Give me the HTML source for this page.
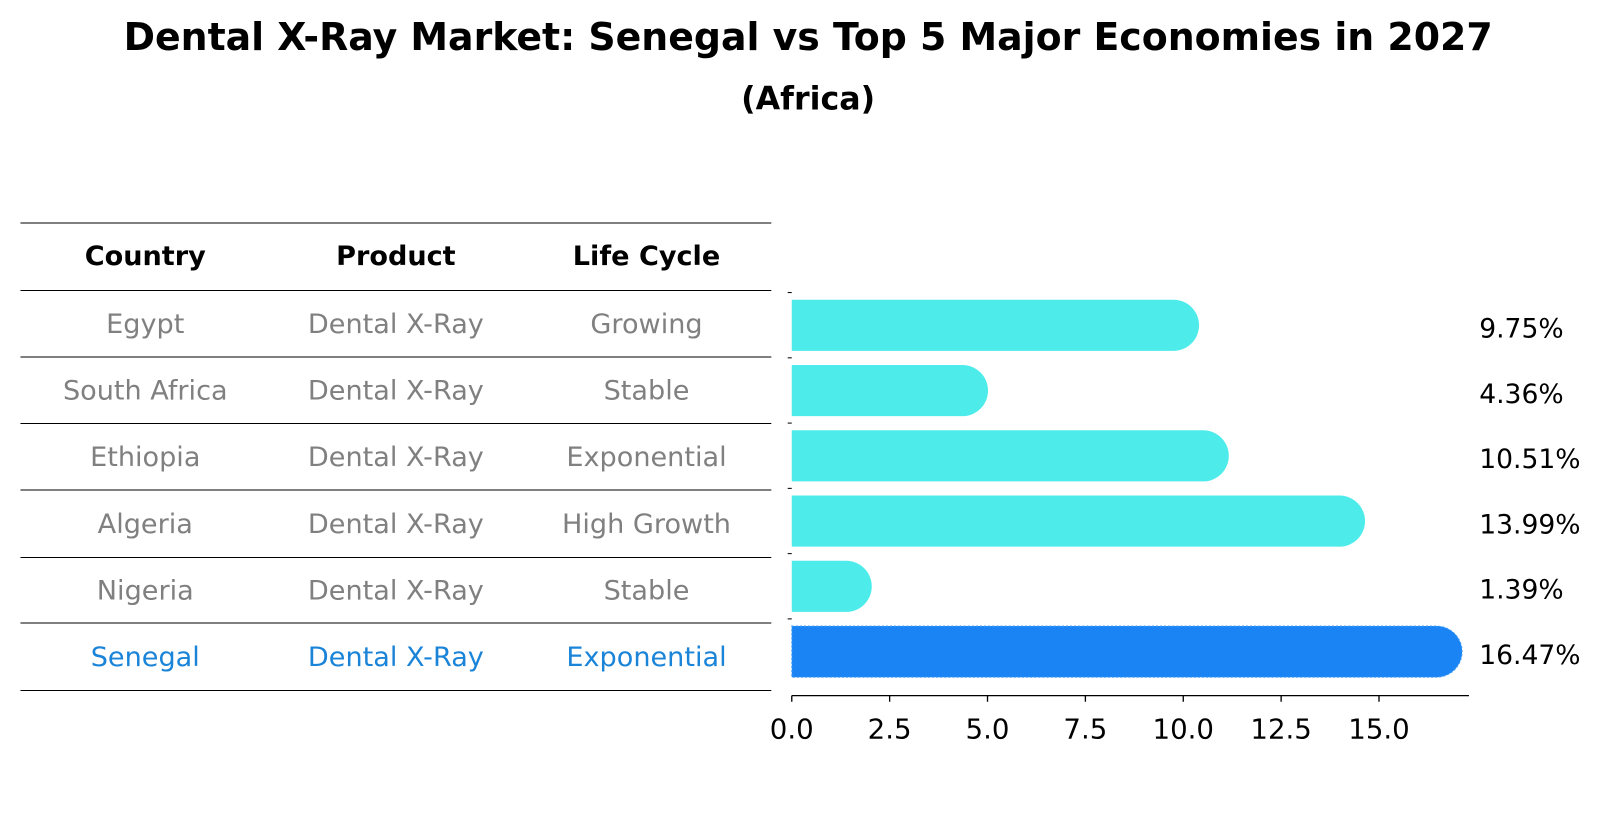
<!DOCTYPE html>
<html><head><meta charset="utf-8"><style>
body{margin:0;background:#fff;font-family:"Liberation Sans","DejaVu Sans",sans-serif;}
svg text{font-family:"DejaVu Sans","Liberation Sans",sans-serif;}
</style></head><body>
<svg width="1604" height="823" xmlns="http://www.w3.org/2000/svg">
<g transform="scale(1.02296)">
<text x="790" y="49" text-anchor="middle" font-size="37" font-weight="bold">Dental X-Ray Market: Senegal vs Top 5 Major Economies in 2027</text>
<text x="790" y="107" text-anchor="middle" font-size="31" font-weight="bold">(Africa)</text>
<g id="table"></g>
<g id="bars"></g>
</g>
</svg>
<script>
const countries=["Egypt","South Africa","Ethiopia","Algeria","Nigeria","Senegal"];
const products=["Dental X-Ray","Dental X-Ray","Dental X-Ray","Dental X-Ray","Dental X-Ray","Dental X-Ray"];
const lifeCycles=["Growing","Stable","Exponential","High Growth","Stable","Exponential"];
const values=[9.75,4.36,10.51,13.99,1.39,16.47];
const ticks=[0,2.5,5,7.5,10,12.5,15];
const NS="http://www.w3.org/2000/svg";
function mk(tag,attrs,parent){const e=document.createElementNS(NS,tag);for(const k in attrs)e.setAttribute(k,attrs[k]);parent.appendChild(e);return e;}
const tbl=document.getElementById('table');
const lineYs=[218,284,349,414,479,545,609,675];
lineYs.forEach(y=>{const l=mk('line',{x1:20,x2:754,y1:y,y2:y,stroke:'#000','stroke-width':1},tbl);

});
const colX=[142,387,632];
["Country","Product","Life Cycle"].forEach((h,i)=>{const t=mk('text',{x:colX[i],y:259,'text-anchor':'middle','font-size':26.5,'font-weight':'bold'},tbl);t.textContent=h;

});
const rowY=i=>(lineYs[i+1]+lineYs[i+2])/2+9;
countries.forEach((c,i)=>{const col=i===countries.length-1?'#1a84d8':'#808080';
[c,products[i],lifeCycles[i]].forEach((v,j)=>{const t=mk('text',{x:colX[j],y:rowY(i),'text-anchor':'middle','font-size':26.5,fill:col},tbl);t.textContent=v;

});});
const g=document.getElementById('bars');
const x0=774,scale=38.27;
const xs=v=>x0+v*scale;
const barCY=i=>318+i*63.8;
const h=50,r=25;
values.forEach((v,i)=>{const y=barCY(i)-h/2,xe=xs(v);
const col=i===values.length-1?'#1a84f5':'#4deceb';
const p=mk('path',{d:`M${x0},${y} H${xe} A${r},${r} 0 0 1 ${xe},${y+h} H${x0} Z`,fill:col},g);
if(i===values.length-1){p.setAttribute('stroke','#4aa0f8');p.setAttribute('stroke-dasharray','2,2');}


const t=mk('text',{x:1446,y:barCY(i)+12,'font-size':26},g);t.textContent=v.toFixed(2)+'%';


const tk=mk('line',{x1:770,x2:774,y1:barCY(i)-32,y2:barCY(i)-32,stroke:'#000'},g);

});
const ax=mk('line',{x1:774,x2:1436,y1:680,y2:680,stroke:'#000','stroke-width':1.3},g);


ticks.forEach(tv=>{const x=xs(tv);const l=mk('line',{x1:x,x2:x,y1:680,y2:686,stroke:'#000','stroke-width':1.3},g);


const t=mk('text',{x:x,y:722,'text-anchor':'middle','font-size':27},g);t.textContent=tv.toFixed(1);

});
</script>
</body></html>
